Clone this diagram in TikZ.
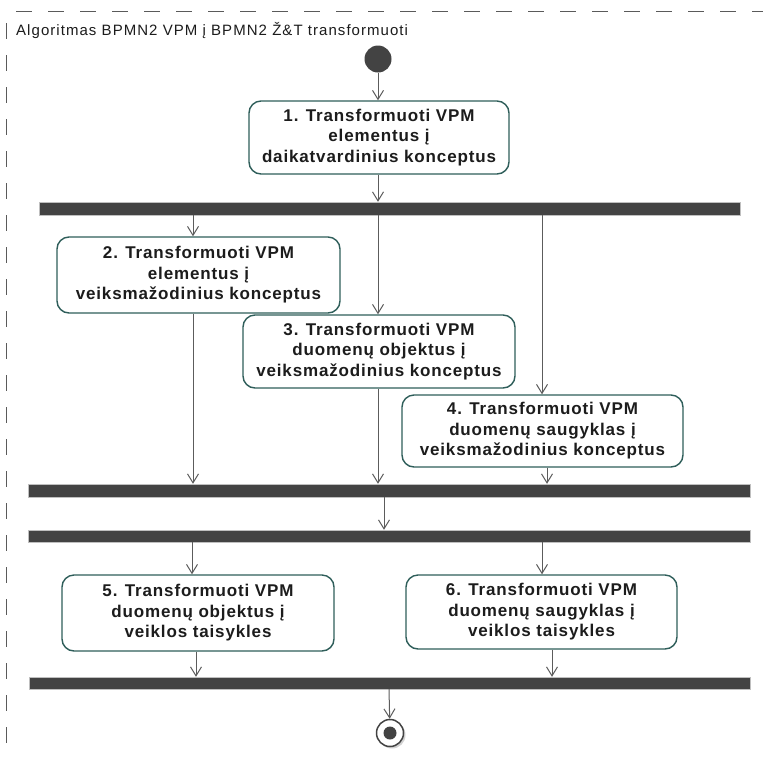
\documentclass[tikz,border=0pt]{standalone}
\usepackage{fontspec}
\setmainfont{Liberation Sans}
\usetikzlibrary{arrows.meta,shadows}
\definecolor{frameline}{HTML}{5A5A5A}
\definecolor{actborder}{HTML}{2F5E5A}
\definecolor{barfill}{HTML}{434343}
\definecolor{flowline}{HTML}{5C5C5C}
\definecolor{txt}{HTML}{1C1C1C}
\newfontfamily\actfont[LetterSpace=5]{Liberation Sans}
\newfontfamily\titlefont[LetterSpace=7]{Liberation Sans}
\tikzset{
  activity/.style={draw=actborder, line width=1.4pt, fill=white, rounded corners=12pt,
    inner sep=0pt, align=center, text=txt,
    font=\actfont\bfseries\fontsize{17}{20.5}\selectfont},
  syncbar/.style={fill=barfill, draw=black!25, line width=0.4pt, inner sep=0pt},
  flow/.style={draw=flowline, line width=1pt, -{Straight Barb[length=9pt,width=11pt,line width=1pt]}},
  framedash/.style={draw=frameline, line width=1.3pt, dash pattern=on 16pt off 16pt},
}
\begin{document}
\begin{tikzpicture}[x=1pt,y=-1pt]
\useasboundingbox (0,0) rectangle (763,756);
\fill[white] (0,0) rectangle (763,756);

% frame of the activity
\draw[framedash, dash phase=22.5pt] (6.5,11.7) -- (770,11.7);
\draw[framedash, dash phase=20.7pt] (6.5,11.7) -- (6.5,770);
\node[anchor=west, text=txt, inner sep=0pt, font=\titlefont\fontsize{15}{17}\selectfont]
  (title) at (16,31) {Algoritmas BPMN2 VPM į BPMN2 Ž\&T transformuoti};

% initial and final nodes
\node[circle, fill=barfill, minimum size=27pt, inner sep=0pt] (start) at (378,59) {};
\node[circle, draw=barfill, line width=1.5pt, fill=white, minimum size=27pt, inner sep=0pt,
  drop shadow={shadow xshift=2pt, shadow yshift=-2pt, fill=black!35}] (final) at (390,733) {};
\node[circle, fill=barfill, minimum size=13pt, inner sep=0pt] (finaldot) at (final.center) {};

% actions
\node[activity, minimum width=260pt, minimum height=73pt] (a1) at (379,137.5)
  {1. Transformuoti VPM\\elementus į\\daikatvardinius konceptus};
\node[activity, minimum width=283pt, minimum height=76pt] (a2) at (198.5,275)
  {2. Transformuoti VPM\\elementus į\\veiksmažodinius konceptus};
\node[activity, minimum width=272pt, minimum height=73pt] (a3) at (379,351.5)
  {3. Transformuoti VPM\\duomenų objektus į\\veiksmažodinius konceptus};
\node[activity, minimum width=281pt, minimum height=72pt] (a4) at (542.5,431)
  {4. Transformuoti VPM\\duomenų saugyklas į\\veiksmažodinius konceptus};
\node[activity, minimum width=272pt, minimum height=76pt] (a5) at (198,613)
  {5. Transformuoti VPM\\duomenų objektus į\\veiklos taisykles};
\node[activity, minimum width=271pt, minimum height=74pt] (a6) at (541.5,612)
  {6. Transformuoti VPM\\duomenų saugyklas į\\veiklos taisykles};

% fork and join bars
\node[syncbar, minimum width=701pt, minimum height=13pt] (fork1) at (389.5,208.5) {};
\node[syncbar, minimum width=722pt, minimum height=13pt] (join1) at (389,490.5) {};
\node[syncbar, minimum width=722pt, minimum height=12pt] (fork2) at (389,536) {};
\node[syncbar, minimum width=721pt, minimum height=12pt] (join2) at (389.5,683) {};

% control flows
\draw[flow] (start) -- (378,0 |- a1.north);
\draw[flow] (378,0 |- a1.south) -- (378,0 |- fork1.north);
\draw[flow] (193,0 |- fork1.south) -- (193,0 |- a2.north);
\draw[flow] (378,0 |- fork1.south) -- (378,0 |- a3.north);
\draw[flow] (542,0 |- fork1.south) -- (542,0 |- a4.north);
\draw[flow] (193,0 |- a2.south) -- (193,0 |- join1.north);
\draw[flow] (378,0 |- a3.south) -- (378,0 |- join1.north);
\draw[flow] (547,0 |- a4.south) -- (547,0 |- join1.north);
\draw[flow] (384,0 |- join1.south) -- (384,0 |- fork2.north);
\draw[flow] (192,0 |- fork2.south) -- (192,0 |- a5.north);
\draw[flow] (542,0 |- fork2.south) -- (542,0 |- a6.north);
\draw[flow] (196,0 |- a5.south) -- (196,0 |- join2.north);
\draw[flow] (552,0 |- a6.south) -- (552,0 |- join2.north);
\draw[flow] (389,0 |- join2.south) -- (final);
\end{tikzpicture}
\end{document}
